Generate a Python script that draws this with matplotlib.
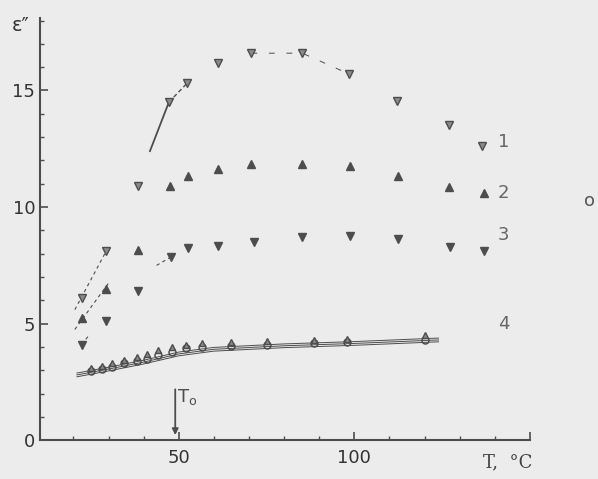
import matplotlib.pyplot as plt
from matplotlib.ticker import MultipleLocator

# curve 1 (open down-triangles)
t1 = [22.4, 29.3, 38.4, 47.2, 52.3, 61.1, 70.7, 85.2, 98.6, 112.2, 127.0, 136.4]
eps1 = [6.1, 8.1, 10.9, 14.5, 15.3, 16.2, 16.6, 16.6, 15.7, 14.55, 13.5, 12.6]

# curve 2 (up-triangles)
t2 = [22.4, 29.3, 38.4, 47.4, 52.6, 61.1, 70.7, 85.2, 98.9, 112.5, 127.0, 136.9]
eps2 = [5.25, 6.5, 8.15, 10.9, 11.35, 11.65, 11.85, 11.85, 11.75, 11.35, 10.85, 10.6]

# curve 3 (filled down-triangles)
t3 = [22.4, 29.3, 38.4, 47.7, 52.6, 61.1, 71.3, 85.2, 98.9, 112.5, 127.3, 136.9]
eps3 = [4.1, 5.1, 6.4, 7.85, 8.25, 8.35, 8.5, 8.7, 8.75, 8.65, 8.3, 8.1]

# curve 4 (circles and triangles, nearly on top of each other)
t4 = [25.0, 28.0, 31.0, 34.5, 38.0, 41.0, 44.0, 48.0, 52.0, 56.5, 65.0, 75.0, 88.5, 98.0, 120.0]
eps4_o = [2.95, 3.05, 3.15, 3.3, 3.4, 3.5, 3.65, 3.8, 3.95, 4.0, 4.05, 4.1, 4.15, 4.2, 4.3]
eps4_tri = [3.1, 3.2, 3.3, 3.45, 3.55, 3.7, 3.85, 4.0, 4.1, 4.15, 4.2, 4.25, 4.3, 4.35, 4.5]

# hand-drawn guide lines
band_t = [21.0, 30.0, 40.0, 50.0, 60.0, 80.0, 100.0, 124.0]
band_eps = [2.8, 3.05, 3.35, 3.7, 3.9, 4.05, 4.15, 4.3]
guide1_t = [41.8, 47.2]
guide1_eps = [12.4, 14.5]

t_o = 49.0

fig = plt.figure(figsize=(5.98, 4.79), dpi=100)
fig.patch.set_facecolor("#ececec")
ax = fig.add_axes([0.067, 0.081, 0.819, 0.881])
ax.set_facecolor("#ececec")

ink = "#4d4d4d"

# guide lines
ax.plot(guide1_t, guide1_eps, color=ink, lw=1.3)
ax.plot(t1[3:5], eps1[3:5], color=ink, lw=1.0, ls=(0, (3, 2)))
ax.plot([t1[0] - 2, t1[1]], [eps1[0] - 0.5, eps1[1]], color=ink, lw=0.8, ls=(0, (3, 3)))
ax.plot([t2[0] - 2, t2[1] + 1], [eps2[0] - 0.5, eps2[1] + 0.3], color=ink, lw=0.8, ls=(0, (3, 3)))
ax.plot([t3[0], t3[0] + 2], [eps3[0], eps3[0] + 0.4], color=ink, lw=0.8, ls=(0, (3, 3)))
ax.plot([t3[3] - 4, t3[3]], [eps3[3] - 0.35, eps3[3]], color=ink, lw=0.8, ls=(0, (3, 3)))
ax.plot(t1[6:9], eps1[6:9], color=ink, lw=0.7, ls=(0, (6, 12)))

for off in (-0.08, 0.0, 0.08):
    ax.plot(band_t, [e + off for e in band_eps], color=ink, lw=0.7)

# markers
ax.plot(t1, eps1, ls="none", marker="v", ms=6, mfc="#8a8a8a", mec=ink, mew=1.0)
ax.plot(t2, eps2, ls="none", marker="^", ms=6, color=ink)
ax.plot(t3, eps3, ls="none", marker="v", ms=6, color=ink)
ax.plot(t4, eps4_o, ls="none", marker="o", ms=5, mfc="none", mec=ink, mew=1.1)
ax.plot(t4, eps4_tri, ls="none", marker="^", ms=5, mfc="#8a8a8a", mec=ink, mew=1.0)

# curve numbers
for lab, y in zip(["1", "2", "3", "4"], [12.8, 10.6, 8.8, 5.0]):
    ax.text(142.5, y, lab, color="#666666", fontsize=13, ha="center", va="center")

# T_o arrow
ax.annotate("", xy=(t_o, 0.1), xytext=(t_o, 2.3),
            arrowprops=dict(arrowstyle="-|>", color=ink, lw=1.3, mutation_scale=9))
ax.text(t_o + 0.6, 1.85, r"T$_\mathrm{o}$", color=ink, fontsize=13, va="center")

ax.set_xlim(10.5, 150)
ax.set_ylim(0, 18.1)
ax.spines["top"].set_visible(False)
ax.spines["right"].set_visible(False)
for s in ("left", "bottom"):
    ax.spines[s].set_color(ink)
    ax.spines[s].set_linewidth(1.5)

ax.xaxis.set_major_locator(MultipleLocator(50))
ax.xaxis.set_minor_locator(MultipleLocator(10))
ax.yaxis.set_major_locator(MultipleLocator(5))
ax.yaxis.set_minor_locator(MultipleLocator(1))
ax.set_xticks([50, 100, 150])
ax.set_xticklabels(["50", "100", ""])
ax.tick_params(which="major", direction="in", length=6, width=1.2, colors=ink,
               labelsize=13, labelcolor="#333333")
ax.tick_params(which="minor", direction="in", length=3, width=1.0, colors=ink)
ax.tick_params(axis="x", which="major", pad=6)

fig.text(0.035, 0.935, "ε″", fontsize=14, color="#333333", ha="center")
fig.text(0.807, 0.025, "T,  °C", fontsize=13, color="#444444", family="DejaVu Serif")
fig.text(0.985, 0.57, "o", fontsize=13, color="#555555", ha="center")

fig.savefig("out.png", dpi=100, facecolor=fig.get_facecolor())
